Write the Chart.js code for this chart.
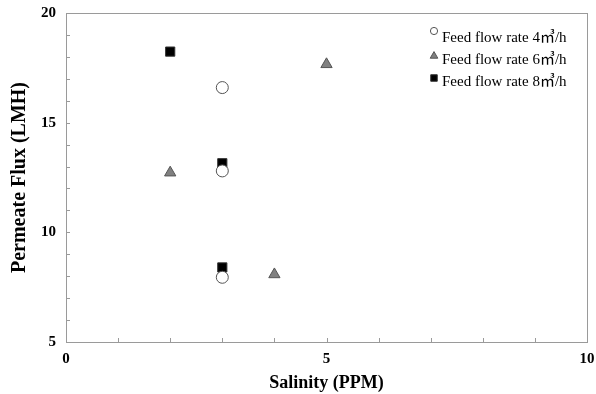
<!DOCTYPE html>
<html>
<head>
<meta charset="utf-8">
<script src="https://cdn.jsdelivr.net/npm/chart.js@4/dist/chart.umd.min.js"></script>
<style>
  html, body { margin: 0; padding: 0; background: #fff; }
  #wrap { width: 596px; height: 394px; }
</style>
</head>
<body>
<div id="wrap"><canvas id="c" width="596" height="394"></canvas></div>
<script>
// Permeate flux measured against feed salinity, for three feed flow rates
const seriesNames = ['Feed flow rate 4㎥/h', 'Feed flow rate 6㎥/h', 'Feed flow rate 8㎥/h'];
const salinity4 = [3, 3, 3];
const flux4     = [16.6, 12.8, 7.95];
const salinity6 = [2, 5, 4];
const flux6     = [12.72, 17.66, 8.08];
const salinity8 = [2, 3, 3];
const flux8     = [18.24, 13.15, 8.4];
const xLabelTicks = [0, 5, 10];
const yLabelTicks = [5, 10, 15, 20];

const toPoints = (xs, ys) => xs.map((x, i) => ({ x: x, y: ys[i] }));

const serif = "'Liberation Serif', 'Times New Roman', 'Noto Sans CJK SC', serif";

// Inward tick marks on the left and bottom axes, plus a legend inside the plot
const axisDecor = {
  id: 'axisDecor',
  afterDraw(chart) {
    const { ctx, chartArea: a, scales: { x, y } } = chart;
    ctx.save();
    ctx.strokeStyle = '#9a9a9a';
    ctx.lineWidth = 1;
    ctx.beginPath();
    for (let v = 1; v < 10; v++) {
      const px = Math.round(x.getPixelForValue(v)) + 0.5;
      ctx.moveTo(px, a.bottom);
      ctx.lineTo(px, a.bottom - 4);
    }
    for (let v = 6; v < 20; v++) {
      const py = Math.round(y.getPixelForValue(v)) + 0.5;
      ctx.moveTo(a.left, py);
      ctx.lineTo(a.left + 4, py);
    }
    ctx.stroke();
    ctx.restore();

    // legend
    const rows = [38, 60, 82];
    const markerDy = [-7, -4, -4];
    ctx.save();
    chart.data.datasets.forEach((ds, i) => {
      const mx = 434, my = rows[i] + markerDy[i];
      ctx.fillStyle = ds.backgroundColor;
      ctx.strokeStyle = ds.borderColor;
      ctx.lineWidth = 1;
      Chart.helpers.drawPoint(ctx, {
        pointStyle: ds.pointStyle,
        radius: ds.pointStyle === 'rect' ? 4.6 : (ds.pointStyle === 'triangle' ? 4.4 : 3.6),
        rotation: 0,
        borderWidth: 1
      }, mx, my);
      ctx.fillStyle = '#000';
      ctx.font = "15px " + serif;
      ctx.textBaseline = 'middle';
      ctx.textAlign = 'left';
      ctx.fillText(ds.label, 442, rows[i]);
    });
    ctx.restore();
  }
};

new Chart(document.getElementById('c'), {
  type: 'scatter',
  data: {
    datasets: [
      {
        label: seriesNames[0],
        data: toPoints(salinity4, flux4),
        pointStyle: 'circle',
        pointRadius: 6,
        pointHoverRadius: 6,
        backgroundColor: '#ffffff',
        borderColor: '#555555',
        borderWidth: 1
      },
      {
        label: seriesNames[1],
        data: toPoints(salinity6, flux6),
        pointStyle: 'triangle',
        pointRadius: 6.5,
        pointHoverRadius: 6.5,
        backgroundColor: '#808080',
        borderColor: '#555555',
        borderWidth: 1
      },
      {
        label: seriesNames[2],
        data: toPoints(salinity8, flux8),
        pointStyle: 'rect',
        pointRadius: 6.5,
        pointHoverRadius: 6.5,
        backgroundColor: '#000000',
        borderColor: '#333333',
        borderWidth: 1
      }
    ]
  },
  options: {
    responsive: false,
    animation: false,
    events: [],
    layout: { padding: { top: 13, right: 9, left: 0, bottom: 0 } },
    plugins: {
      legend: { display: false },
      tooltip: { enabled: false }
    },
    scales: {
      x: {
        type: 'linear',
        min: 0, max: 10,
        afterBuildTicks(s) { s.ticks = xLabelTicks.map(v => ({ value: v })); },
        afterFit(s) { s.height = 52; s.paddingLeft = 0; s.paddingRight = 0; },
        grid: { display: false, drawTicks: false },
        border: { display: true, color: '#9a9a9a', width: 1 },
        ticks: {
          color: '#000',
          padding: 8,
          maxRotation: 0,
          font: { family: serif, size: 15, weight: 'bold' }
        },
        title: {
          display: true,
          text: 'Salinity (PPM)',
          color: '#000',
          padding: { top: 0, bottom: 0 },
          font: { family: serif, size: 18, weight: 'bold' }
        }
      },
      y: {
        type: 'linear',
        min: 5, max: 20,
        afterBuildTicks(s) { s.ticks = yLabelTicks.map(v => ({ value: v })); },
        afterFit(s) { s.width = 66; s.paddingTop = 0; s.paddingBottom = 0; },
        grid: { display: false, drawTicks: false },
        border: { display: true, color: '#9a9a9a', width: 1 },
        ticks: {
          color: '#000',
          padding: 10,
          font: { family: serif, size: 15, weight: 'bold' }
        },
        title: {
          display: true,
          text: 'Permeate Flux (LMH)',
          color: '#000',
          padding: { top: 8, bottom: 10 },
          font: { family: serif, size: 20, weight: 'bold' }
        }
      }
    }
  },
  plugins: [
    {
      id: 'frame',
      beforeDraw(chart) {
        const { ctx, chartArea: a } = chart;
        ctx.save();
        ctx.fillStyle = '#fff';
        ctx.fillRect(0, 0, chart.width, chart.height);
        ctx.strokeStyle = '#9a9a9a';
        ctx.lineWidth = 1;
        ctx.strokeRect(Math.round(a.left) + 0.5, Math.round(a.top) + 0.5,
                       Math.round(a.right - a.left), Math.round(a.bottom - a.top));
        ctx.restore();
      }
    },
    axisDecor
  ]
});
</script>
</body>
</html>
